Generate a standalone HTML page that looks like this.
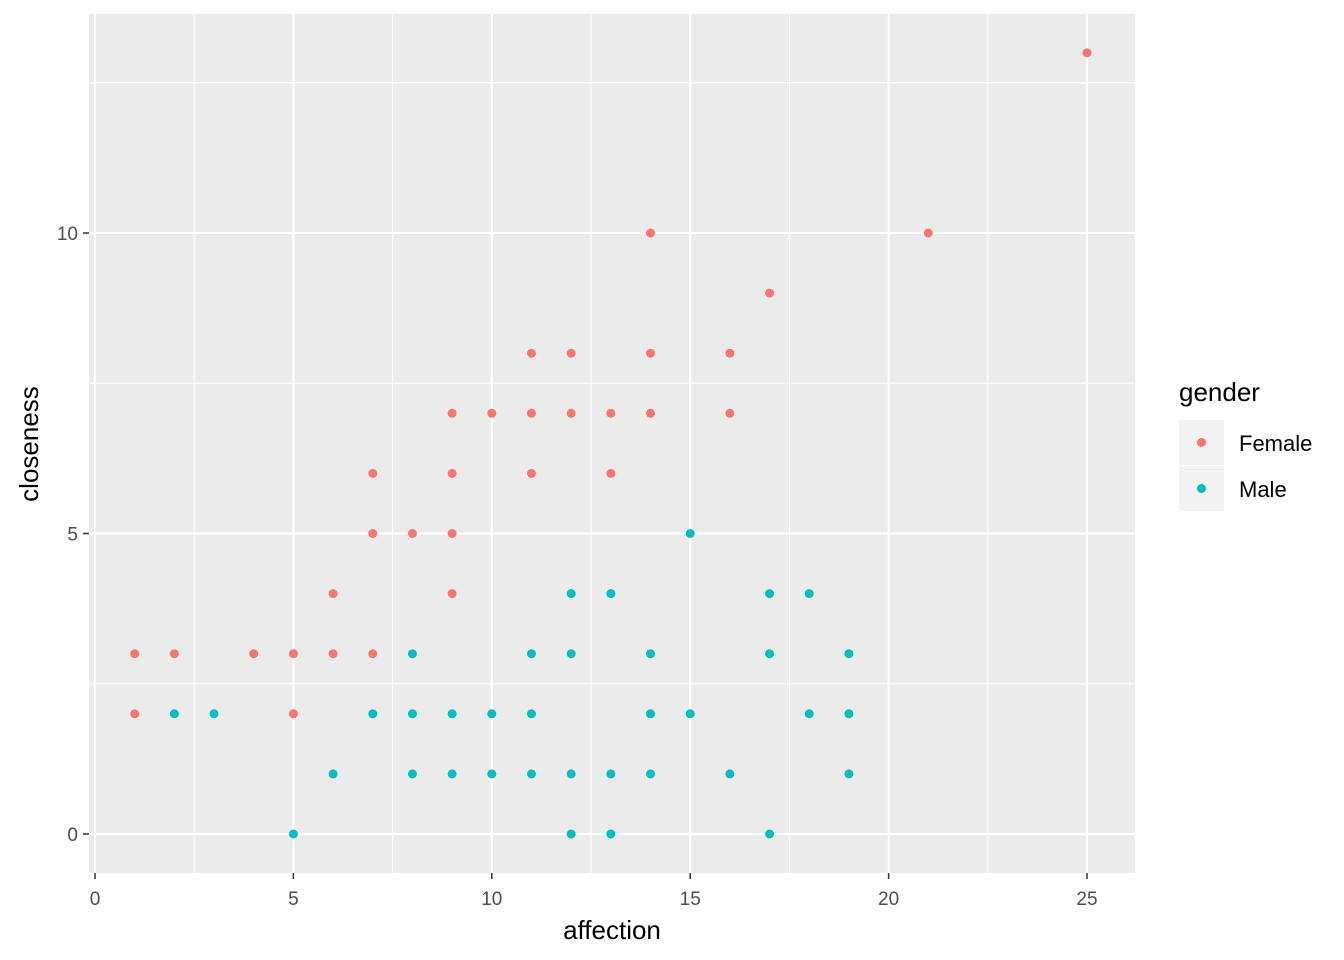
<!DOCTYPE html>
<html><head><meta charset="utf-8"><style>
body{margin:0;background:#fff;}
svg{display:block;font-family:"Liberation Sans",Arial,sans-serif;}
</style></head><body>
<svg id="chart" width="1344" height="960">
<rect x="89" y="14" width="1046" height="859" fill="#ebebeb"/>
<g id="grid"></g>
<g id="points"></g>
<g id="axes"></g>
<text x="612" y="939" font-size="26" text-anchor="middle" fill="#000">affection</text>
<text transform="translate(38,444) rotate(-90)" font-size="26" text-anchor="middle" fill="#000">closeness</text>
<g>
<text x="1179" y="401" font-size="26" fill="#000">gender</text>
<rect x="1179" y="420" width="45" height="45" fill="#f2f2f2"/>
<circle cx="1201.5" cy="442.5" r="4.5" fill="#F8766D"/>
<text x="1239" y="451" font-size="22" fill="#000">Female</text>
<rect x="1179" y="466" width="45" height="45" fill="#f2f2f2"/>
<circle cx="1201.5" cy="488.5" r="4.5" fill="#00BFC4"/>
<text x="1239" y="497" font-size="22" fill="#000">Male</text>
</g>
</svg>
<script>
const xTicks=[0,5,10,15,20,25];
const yTicks=[0,5,10];
const femaleX=[1,1,2,4,5,5,6,6,7,7,7,8,9,9,9,9,10,11,11,11,12,12,13,13,14,14,14,16,16,17,21,25];
const femaleY=[3,2,3,3,3,2,4,3,6,5,3,5,7,6,5,4,7,8,7,6,8,7,7,6,10,8,7,8,7,9,10,13];
const maleX=[2,3,5,6,7,8,8,8,9,9,10,10,11,11,11,12,12,12,12,13,13,13,14,14,14,15,15,16,17,17,17,18,18,19,19,19];
const maleY=[2,2,0,1,2,3,2,1,2,1,2,1,3,2,1,4,3,1,0,4,1,0,3,2,1,5,2,1,4,3,0,4,2,3,2,1];
const NS="http://www.w3.org/2000/svg";
const X0=89,X1=1135,Y0=14,Y1=873;
function sx(v){return 95+v*(1087-95)/25;}
function sy(v){return 834-v*(834-233)/10;}
function mk(tag,attrs,parent){const e=document.createElementNS(NS,tag);for(const k in attrs)e.setAttribute(k,attrs[k]);parent.appendChild(e);return e;}
const grid=document.getElementById('grid');
for(let i=0;i<xTicks.length;i++){
  const v=xTicks[i];
  const mid=v+2.5;
  if(sx(mid)<X1){const m=mk('line',{x1:sx(mid),x2:sx(mid),y1:Y0,y2:Y1,stroke:'#fff','stroke-width':1},grid);
  
  }
  const l=mk('line',{x1:sx(v),x2:sx(v),y1:Y0,y2:Y1,stroke:'#fff','stroke-width':2},grid);
  
  
}
for(let i=0;i<yTicks.length;i++){
  const v=yTicks[i];
  const mid=v+2.5;
  const m=mk('line',{x1:X0,x2:X1,y1:sy(mid),y2:sy(mid),stroke:'#fff','stroke-width':1},grid);
  
  
  const l=mk('line',{x1:X0,x2:X1,y1:sy(v),y2:sy(v),stroke:'#fff','stroke-width':2},grid);
  
  
}
const pts=document.getElementById('points');
for(let i=0;i<femaleX.length;i++){
  const c=mk('circle',{cx:sx(femaleX[i]),cy:sy(femaleY[i]),r:4.5,fill:'#F8766D'},pts);
  
  
}
for(let i=0;i<maleX.length;i++){
  const c=mk('circle',{cx:sx(maleX[i]),cy:sy(maleY[i]),r:4.5,fill:'#00BFC4'},pts);
  
  
}
const ax=document.getElementById('axes');
for(let i=0;i<xTicks.length;i++){
  const v=xTicks[i];
  const t=mk('line',{x1:sx(v),x2:sx(v),y1:Y1,y2:Y1+6,stroke:'#333','stroke-width':1.5},ax);
  
  
  const tx=mk('text',{x:sx(v),y:905,'font-size':19,'text-anchor':'middle',fill:'#4d4d4d'},ax);
  tx.textContent=v;
  
  
}
for(let i=0;i<yTicks.length;i++){
  const v=yTicks[i];
  const t=mk('line',{x1:X0-6,x2:X0,y1:sy(v),y2:sy(v),stroke:'#333','stroke-width':1.5},ax);
  
  
  const tx=mk('text',{x:X0-11,y:sy(v)+7,'font-size':19,'text-anchor':'end',fill:'#4d4d4d'},ax);
  tx.textContent=v;
  
  
}
</script>
</body></html>
